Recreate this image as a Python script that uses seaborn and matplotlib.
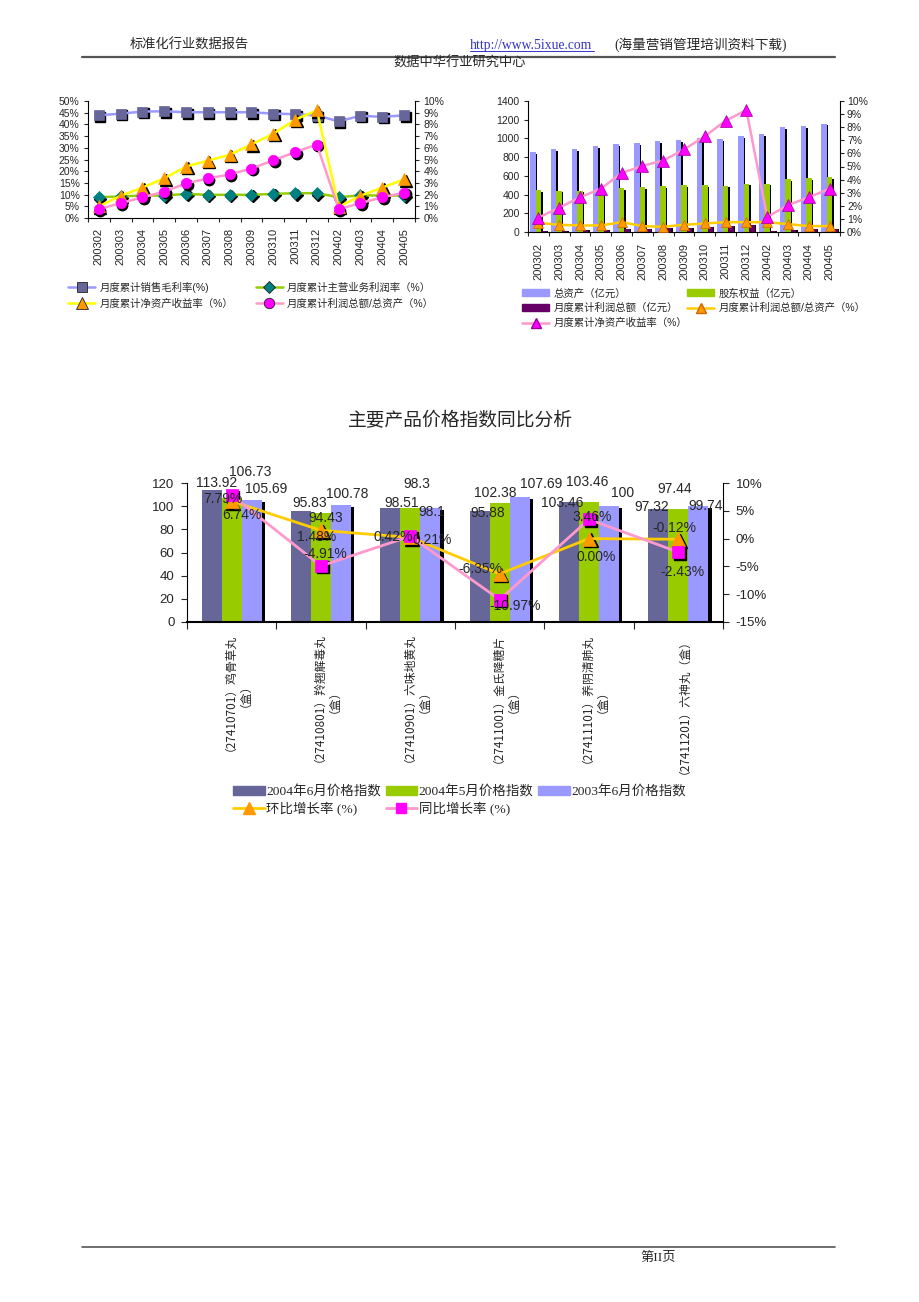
import numpy as np
import pandas as pd
import matplotlib
matplotlib.use("Agg")
import matplotlib.pyplot as plt
from matplotlib.lines import Line2D
from matplotlib.patches import Patch
from matplotlib.transforms import offset_copy
import seaborn as sns

# ---------------- data ----------------
months = ["200302", "200303", "200304", "200305", "200306", "200307", "200308",
          "200309", "200310", "200311", "200312", "200402", "200403", "200404", "200405"]

# chart 1 (left axis %, right axis %)
gross_margin = [43.9, 44.6, 45.5, 45.6, 45.2, 45.2, 45.2, 45.2, 44.6, 44.4, 43.8, 41.3, 43.7, 43.2, 43.9]
main_margin = [8.9, 9.2, 9.6, 9.6, 10.3, 9.9, 9.9, 9.9, 10.3, 10.6, 10.6, 8.9, 9.7, 9.6, 9.6]
roe_a = [1.0, 1.9, 2.6, 3.4, 4.4, 4.9, 5.4, 6.3, 7.2, 8.4, 9.2, 0.95, 1.9, 2.6, 3.3]
profit_assets_a = [0.76, 1.27, 1.77, 2.25, 2.96, 3.38, 3.72, 4.23, 4.93, 5.63, 6.28, 0.76, 1.27, 1.77, 2.17]

# chart 2
total_assets = [858, 886, 890, 915, 943, 950, 968, 978, 1003, 996, 1021, 1046, 1124, 1134, 1159]
equity = [447, 443, 443, 440, 468, 479, 493, 500, 500, 496, 518, 518, 567, 574, 588]
total_profit = [7, 14, 18, 21, 28, 35, 39, 45, 53, 64, 71, 7, 21, 28, 35]
profit_assets_b = [0.7, 0.55, 0.5, 0.5, 0.75, 0.45, 0.4, 0.55, 0.65, 0.75, 0.75, 0.75, 0.6, 0.45, 0.45]
roe_b = [1.1, 1.85, 2.65, 3.3, 4.5, 5.05, 5.45, 6.3, 7.3, 8.5, 9.3, 1.15, 2.05, 2.65, 3.3]

# chart 3
products = ["（27410701）鸡骨草丸\n（盒）", "（27410801）羚翘解毒丸\n（盒）",
            "（27410901）六味地黄丸\n（盒）", "（27411001）金氏降糖片\n（盒）",
            "（27411101）养阴清肺丸\n（盒）", "（27411201）六神丸（盒）"]
idx_2004_06 = [113.92, 95.83, 98.51, 95.88, 103.46, 97.32]
idx_2004_05 = [106.73, 94.43, 98.3, 102.38, 103.46, 97.44]
idx_2003_06 = [105.69, 100.78, 98.1, 107.69, 100, 99.74]
mom_growth = [6.74, 1.48, 0.21, -6.35, 0.00, -0.12]
yoy_growth = [7.79, -4.91, 0.42, -10.97, 3.46, -2.43]
series3 = ["2004年6月价格指数", "2004年5月价格指数", "2003年6月价格指数"]

# ---------------- style / layout ----------------
sns.set_style("ticks")
plt.rcParams["font.family"] = ["Liberation Sans", "Noto Sans CJK SC"]
plt.rcParams["axes.unicode_minus"] = False
CJK = ["Liberation Serif", "Noto Sans CJK SC"]

W, H = 920, 1302
fig = plt.figure(figsize=(W / 100, H / 100), dpi=100)


def frect(x0, y0, x1, y1):
    return [x0 / W, 1 - y1 / H, (x1 - x0) / W, (y1 - y0) / H]


def fx(x):
    return x / W


def fy(y):
    return 1 - y / H


def style_axes(ax, axr, ncat, xfs, xpad, ytick_len=3):
    for a in (ax, axr):
        a.spines["top"].set_visible(False)
        for s in ("left", "right", "bottom"):
            a.spines[s].set_color("black")
            a.spines[s].set_linewidth(0.8)
    ax.spines["right"].set_visible(False)
    axr.spines["left"].set_visible(False)
    axr.spines["bottom"].set_visible(False)
    ax.set_xlim(-0.5, ncat - 0.5)
    ax.set_xticks(np.arange(-0.5, ncat, 1.0), minor=True)
    ax.tick_params(axis="x", which="minor", length=3, direction="out", width=0.8)
    ax.tick_params(axis="x", which="major", length=0, pad=xpad, labelsize=xfs)
    ax.tick_params(axis="y", length=ytick_len, width=0.8, direction="out")
    axr.tick_params(axis="y", length=ytick_len, width=0.8, direction="out")
    ax.set_xlabel("")
    ax.set_ylabel("")
    axr.set_ylabel("")


def shadow(ax, x, y, marker, ms):
    tr = offset_copy(ax.transData, fig=fig, x=1.5, y=-1.5, units="dots")
    ax.plot(x, y, linestyle="none", marker=marker, markersize=ms, color="black",
            transform=tr, zorder=1.9)


x15 = np.arange(len(months))

# ================= chart 1 =================
ax1 = fig.add_axes(frect(88, 101, 415, 218))
ax1r = ax1.twinx()
ax1.patch.set_alpha(0)

c1 = dict(gm=("#9999FF", "s", "#666699", 7),
          mm=("#99CC00", "D", "#008080", 6),
          roe=("#FFFF00", "^", "#FF9900", 8.5),
          pa=("#FF99CC", "o", "#FF00FF", 7.5))

for vals, key, axx in [(gross_margin, "gm", ax1), (main_margin, "mm", ax1),
                       (roe_a, "roe", ax1r), (profit_assets_a, "pa", ax1r)]:
    lc, mk, mc, ms = c1[key]
    shadow(axx, x15, vals, mk, ms)
    sns.lineplot(x=x15, y=vals, ax=axx, color=lc, linewidth=1.8, marker=mk,
                 markersize=ms, markerfacecolor=mc, markeredgecolor=mc,
                 markeredgewidth=0.5, zorder=2)

ax1.set_ylim(0, 50)
ax1.set_yticks(range(0, 51, 5))
ax1.set_yticklabels([f"{v}%" for v in range(0, 51, 5)], fontsize=7.5)
ax1r.set_ylim(0, 10)
ax1r.set_yticks(range(0, 11))
ax1r.set_yticklabels([f"{v}%" for v in range(0, 11)], fontsize=7.5)
ax1.set_xticks(x15)
ax1.set_xticklabels(months, rotation=90, va="top")
style_axes(ax1, ax1r, len(months), 8, 7)
ax1.tick_params(axis="y", pad=3)
ax1r.tick_params(axis="y", pad=3)

h1 = [Line2D([], [], color=c1[k][0], lw=1.8, marker=c1[k][1], markersize=c1[k][3],
             markerfacecolor=c1[k][2], markeredgecolor="#222222", markeredgewidth=0.6)
      for k in ("gm", "roe", "mm", "pa")]
l1 = ["月度累计销售毛利率(%)", "月度累计净资产收益率（%）",
      "月度累计主营业务利润率（%）", "月度累计利润总额/总资产（%）"]
fig.legend(h1, l1, loc="upper left", bbox_to_anchor=(fx(68), fy(282)), ncol=2,
           frameon=False, fontsize=7.5, handlelength=2.6, columnspacing=2.2,
           labelspacing=0.5, handletextpad=0.4, borderaxespad=0, borderpad=0)

# ================= chart 2 =================
ax2 = fig.add_axes(frect(528, 101, 840, 232))
ax2r = ax2.twinx()
s2 = ["总资产（亿元）", "股东权益（亿元）", "月度累计利润总额（亿元）"]
pal2 = ["#9999FF", "#99CC00", "#660066"]
vals2 = [total_assets, equity, total_profit]
df2 = pd.DataFrame({"month": np.tile(months, 3),
                    "series": np.repeat(s2, len(months)),
                    "value": np.concatenate(vals2)})
w2 = 0.78
bw2 = w2 / 3
drop2 = 20
for i, v in enumerate(vals2):
    off = -w2 / 2 + bw2 * (i + 0.5)
    ax2.bar(x15 + off + 0.07, np.array(v) - drop2 * (i < 2), width=bw2,
            color="black", zorder=0.5, linewidth=0)
sns.barplot(data=df2, x="month", y="value", hue="series", hue_order=s2, palette=pal2,
            width=w2, saturation=1, ax=ax2, legend=False, errorbar=None, zorder=1,
            linewidth=0)
sns.lineplot(x=x15, y=profit_assets_b, ax=ax2r, color="#FFCC00", linewidth=1.8,
             marker="^", markersize=7.5, markerfacecolor="#FF9900",
             markeredgecolor="#CC6600", markeredgewidth=0.5)
sns.lineplot(x=x15, y=roe_b, ax=ax2r, color="#FF99CC", linewidth=1.8,
             marker="^", markersize=8, markerfacecolor="#FF00FF",
             markeredgecolor="#990099", markeredgewidth=0.5)
ax2.set_ylim(0, 1400)
ax2.set_yticks(range(0, 1401, 200))
ax2.set_yticklabels([str(v) for v in range(0, 1401, 200)], fontsize=7.5)
ax2r.set_ylim(0, 10)
ax2r.set_yticks(range(0, 11))
ax2r.set_yticklabels([f"{v}%" for v in range(0, 11)], fontsize=7.5)
ax2.set_xticks(x15)
ax2.set_xticklabels(months, rotation=90, va="top")
style_axes(ax2, ax2r, len(months), 8, 8)
ax2.tick_params(axis="y", pad=3)
ax2r.tick_params(axis="y", pad=2)

h2 = [Patch(color=pal2[0]), Patch(color=pal2[2]),
      Line2D([], [], color="#FF99CC", lw=1.8, marker="^", markersize=7.5,
             markerfacecolor="#FF00FF", markeredgecolor="#990099"),
      Patch(color=pal2[1]),
      Line2D([], [], color="#FFCC00", lw=1.8, marker="^", markersize=7,
             markerfacecolor="#FF9900", markeredgecolor="#CC6600")]
l2 = [s2[0], s2[2], "月度累计净资产收益率（%）", s2[1], "月度累计利润总额/总资产（%）"]
fig.legend(h2, l2, loc="upper left", bbox_to_anchor=(fx(522), fy(288)), ncol=2,
           frameon=False, fontsize=7.5, handlelength=2.6, handleheight=0.6,
           columnspacing=0.0, labelspacing=0.45, handletextpad=0.4,
           borderaxespad=0, borderpad=0)

# ================= chart 3 =================
fig.text(fx(460), fy(421), "主要产品价格指数同比分析", fontsize=13.5, ha="center",
         va="center", family=["Noto Sans CJK SC"])
ax3 = fig.add_axes(frect(187, 483, 723, 622))
ax3r = ax3.twinx()
pal3 = ["#666699", "#99CC00", "#9999FF"]
vals3 = [idx_2004_06, idx_2004_05, idx_2003_06]
df3 = pd.DataFrame({"product": np.tile(products, 3),
                    "series": np.repeat(series3, len(products)),
                    "value": np.concatenate(vals3)})
x6 = np.arange(len(products))
w3 = 0.675
bw3 = w3 / 3
ax3.bar(x6 + (w3 / 2 - bw3 / 2) + 0.035, np.array(idx_2003_06) - 1.7, width=bw3,
        color="black", zorder=0.5, linewidth=0)
sns.barplot(data=df3, x="product", y="value", hue="series", hue_order=series3,
            palette=pal3, width=w3, saturation=1, ax=ax3, legend=False,
            errorbar=None, zorder=1, linewidth=0)
mom = np.array(mom_growth) / 100
yoy = np.array(yoy_growth) / 100
shadow(ax3r, x6, mom, "^", 10)
sns.lineplot(x=x6, y=mom, ax=ax3r, color="#FFCC00", linewidth=2,
             marker="^", markersize=10, markerfacecolor="#FF9900",
             markeredgecolor="#FF9900", markeredgewidth=0.5, zorder=2)
shadow(ax3r, x6, yoy, "s", 8)
sns.lineplot(x=x6, y=yoy, ax=ax3r, color="#FF99CC", linewidth=2,
             marker="s", markersize=8, markerfacecolor="#FF00FF",
             markeredgecolor="#FF00FF", markeredgewidth=0.5, zorder=2.1)
ax3.set_ylim(0, 120)
ax3.set_yticks(range(0, 121, 20))
ax3.set_yticklabels([str(v) for v in range(0, 121, 20)], fontsize=9.5)
ax3r.set_ylim(-0.15, 0.10)
rt = [-15, -10, -5, 0, 5, 10]
ax3r.set_yticks([v / 100 for v in rt])
ax3r.set_yticklabels([f"{v}%" for v in rt], fontsize=9.5)
ax3.set_xticks(x6)
ax3.set_xticklabels(products, rotation=90, va="top", ha="center",
                    multialignment="center", family=["Noto Sans CJK SC"])
style_axes(ax3, ax3r, len(products), 8.5, 4, ytick_len=4)
ax3.tick_params(axis="x", which="minor", length=5)
ax3.spines["bottom"].set_linewidth(1.5)
ax3.tick_params(axis="y", pad=5)
ax3r.tick_params(axis="y", pad=5)

# data labels (pixel offsets are layout only)
bar_off = [[(5, 7), (19, 26), (14, 11)],
           [(9, 8), (5, -5), (6, 11)],
           [(11, 5), (6, 24), (1, -4)],
           [(8, -2), (-4, 10), (21, 13)],
           [(-7, -1), (-2, 20), (13, 13)],
           [(-6, 2), (-4, 20), (7, 0)]]
for j in range(len(products)):
    for i, v in enumerate(vals3):
        off = -w3 / 2 + bw3 * (i + 0.5)
        dx, dy = bar_off[j][i]
        ax3.annotate(f"{v[j]:g}", (x6[j] + off, v[j]), xytext=(dx, dy),
                     textcoords="offset pixels", ha="center", va="center",
                     fontsize=10, zorder=5)
mom_off = [(10, -14), (-4, -7), (22, -3), (-19, 5), (7, -18), (-4, 11)]
yoy_off = [(-9, -4), (4, 12), (-17, -1), (15, -6), (3, 2), (4, -20)]
for j in range(len(products)):
    ax3r.annotate(f"{mom_growth[j]:.2f}%", (x6[j], mom[j]),
                  xytext=mom_off[j], textcoords="offset pixels", ha="center",
                  va="center", fontsize=10, zorder=5)
    ax3r.annotate(f"{yoy_growth[j]:.2f}%", (x6[j], yoy[j]),
                  xytext=yoy_off[j], textcoords="offset pixels", ha="center",
                  va="center", fontsize=10, zorder=5)

h3 = [Patch(color=pal3[0]),
      Line2D([], [], color="#FFCC00", lw=2, marker="^", markersize=8,
             markerfacecolor="#FF9900", markeredgecolor="#FF9900"),
      Patch(color=pal3[1]),
      Line2D([], [], color="#FF99CC", lw=2, marker="s", markersize=7,
             markerfacecolor="#FF00FF", markeredgecolor="#FF00FF"),
      Patch(color=pal3[2])]
l3 = [series3[0], "环比增长率 (%)", series3[1], "同比增长率 (%)", series3[2]]
fig.legend(h3, l3, loc="upper left", bbox_to_anchor=(fx(233), fy(785)), ncol=3,
           frameon=False, handlelength=2.35, handleheight=0.7,
           columnspacing=0.35, labelspacing=0.3, handletextpad=0.1,
           borderaxespad=0, borderpad=0, prop={"family": CJK, "size": 9.7})

# ================= page header / footer =================
fig.text(fx(130), fy(45), "标准化行业数据报告", fontsize=9.5, va="center", family=CJK)
fig.text(fx(470), fy(45), "http://www.5ixue.com", fontsize=9.8, va="center",
         color="#3333CC", family=CJK)
fig.add_artist(Line2D([fx(470), fx(594)], [fy(51), fy(51)], color="#3333CC", lw=0.7))
fig.text(fx(614), fy(45), "(海量营销管理培训资料下载)", fontsize=9.8, va="center",
         family=CJK)
fig.add_artist(Line2D([fx(82), fx(835)], [fy(57), fy(57)], color="#555555", lw=1.6))
fig.text(fx(460), fy(63), "数据中华行业研究中心", fontsize=9.5, ha="center",
         va="center", family=CJK)
fig.add_artist(Line2D([fx(82), fx(835)], [fy(1247), fy(1247)], color="#555555", lw=1.2))
fig.text(fx(640), fy(1258), "第II页", fontsize=9.5, va="center", family=CJK)

fig.savefig("out.png", dpi=100, facecolor="white")
